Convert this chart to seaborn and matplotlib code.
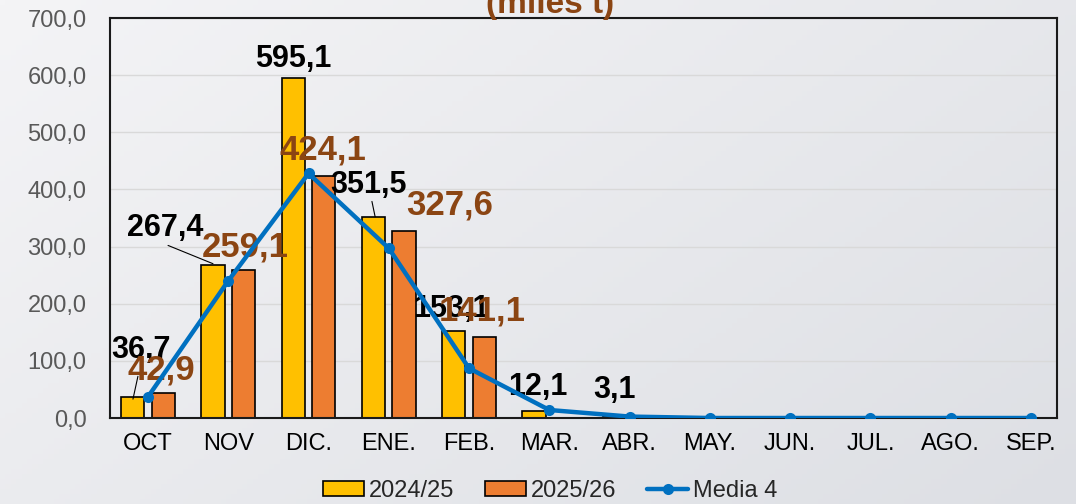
import numpy as np
import pandas as pd
import matplotlib
matplotlib.use("Agg")
import matplotlib.pyplot as plt
import seaborn as sns
from matplotlib.patches import Patch
from matplotlib.lines import Line2D

months = ["OCT", "NOV", "DIC.", "ENE.", "FEB.", "MAR.", "ABR.", "MAY.", "JUN.", "JUL.", "AGO.", "SEP."]
s2425 = [36.7, 267.4, 595.1, 351.5, 153.1, 12.1, 3.1, np.nan, np.nan, np.nan, np.nan, np.nan]
s2526 = [42.9, 259.1, 424.1, 327.6, 141.1, np.nan, np.nan, np.nan, np.nan, np.nan, np.nan, np.nan]
media4 = [37.0, 240.0, 428.0, 297.0, 87.0, 14.0, 2.5, 0.0, 0.0, 0.0, 0.0, 0.0]
series_names = ["2024/25", "2025/26", "Media 4"]
title_text = "(miles t)"

# label positions (data coords) for value labels
lab24_pos = [(-0.09, 119), (0.22, 333), (1.81, 628), (2.75, 408), (3.78, 190), (4.86, 54), (5.81, 49)]
lab25_pos = [(0.17, 84), (1.21, 300), (2.18, 469), (3.76, 373), (4.16, 187)]

sns.set_theme(style="white")
plt.rcParams["font.family"] = ["Liberation Sans", "DejaVu Sans"]

fig = plt.figure(figsize=(10.76, 5.04), dpi=100)

# background gradient
bg = fig.add_axes([0, 0, 1, 1], zorder=-10)
gx, gy = np.meshgrid(np.linspace(0, 1, 200), np.linspace(0, 1, 100))
g = (gx * 0.6 + gy * 0.4)
c0 = np.array([0xf4, 0xf4, 0xf6]) / 255
c1 = np.array([0xdd, 0xdf, 0xe4]) / 255
img = c0[None, None, :] * (1 - g[..., None]) + c1[None, None, :] * g[..., None]
bg.imshow(img, aspect="auto", extent=[0, 1, 0, 1], origin="upper")
bg.axis("off")

ax = fig.add_axes([110 / 1076, 1 - 418 / 504, (1057 - 110) / 1076, (418 - 18) / 504])
ax.set_facecolor("none")

df = pd.DataFrame({
    "mes": months * 2,
    "valor": s2425 + s2526,
    "campaña": [series_names[0]] * 12 + [series_names[1]] * 12,
})
sns.barplot(data=df, x="mes", y="valor", hue="campaña", order=months,
            palette=["#FFC000", "#ED7D31"], saturation=1, width=0.76, gap=0.24,
            edgecolor="black", linewidth=1.2, ax=ax, legend=False, zorder=2)

dfl = pd.DataFrame({"mes": months, "valor": media4})
sns.lineplot(data=dfl, x="mes", y="valor", color="#0070C0", linewidth=3.2,
             marker="o", markersize=8, markeredgewidth=0, ax=ax, zorder=5, sort=False)

def fmt(v):
    return f"{v:.1f}".replace(".", ",")

vals24 = [v for v in s2425 if not np.isnan(v)]
vals25 = [v for v in s2526 if not np.isnan(v)]
for v, (x, y) in zip(vals24, lab24_pos):
    ax.text(x, y, fmt(v), ha="center", va="center", fontsize=22, fontweight="bold",
            color="black", zorder=4)
for v, (x, y) in zip(vals25, lab25_pos):
    ax.text(x, y, fmt(v), ha="center", va="center", fontsize=25, fontweight="bold",
            color="#8B4513", zorder=4)

# leader lines
for (x0, y0), (x1, y1) in [((-0.125, 73), (-0.187, 33)), ((0.25, 302), (0.81, 270)), ((2.79, 379), (2.83, 352))]:
    ax.plot([x0, x1], [y0, y1], color="black", lw=0.8, zorder=3)

ax.set_xlim(-0.473, 11.324)
ax.set_ylim(0, 700)
ax.set_yticks(np.arange(0, 701, 100))
ax.set_yticklabels([fmt(v) for v in np.arange(0, 701, 100)], color="#595959", fontsize=17)
ax.set_xticks(range(12))
ax.set_xticklabels(months, color="black", fontsize=17)
ax.tick_params(axis="y", length=0, pad=17)
ax.tick_params(axis="x", length=0, pad=11)
ax.set_xlabel("")
ax.set_ylabel("")
ax.yaxis.grid(True, color="#d9d9d9", lw=1)
ax.set_axisbelow(True)
for sp in ax.spines.values():
    sp.set_visible(True)
    sp.set_color("#1a1a1a")
    sp.set_linewidth(1.5)

fig.text(550 / 1076, 1 - 13 / 504, title_text, ha="center", va="baseline", fontsize=24,
         fontweight="bold", color="#8B4513")

handles = [
    Patch(facecolor="#FFC000", edgecolor="black", lw=1.2),
    Patch(facecolor="#ED7D31", edgecolor="black", lw=1.2),
    Line2D([0], [0], color="#0070C0", lw=3.2, marker="o", markersize=8, markeredgewidth=0),
]
fig.legend(handles, series_names, loc="center", bbox_to_anchor=(550 / 1076, 1 - 491 / 504),
           ncol=3, frameon=False, fontsize=17, handlelength=1.75, handleheight=0.6,
           handletextpad=0.2, columnspacing=1.3, borderaxespad=0)

fig.savefig("out.png", dpi=100)
